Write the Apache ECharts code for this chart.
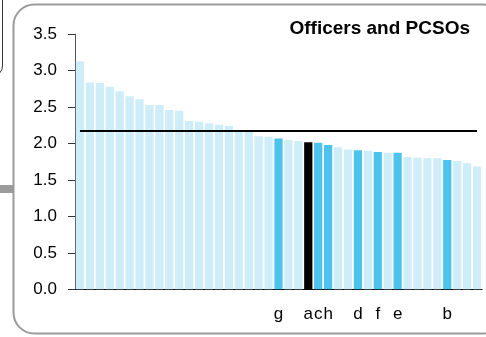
<!DOCTYPE html>
<html>
<head>
<meta charset="utf-8">
<script src="https://cdn.jsdelivr.net/npm/echarts@6/dist/echarts.min.js"></script>
<style>
html,body{margin:0;padding:0;background:#fff;}
#chart{width:486px;height:337px;}
</style>
</head>
<body>
<div id="chart"></div>
<script>
// Force values, sorted descending
var values = [3.13, 2.84, 2.83, 2.78, 2.72, 2.65, 2.61, 2.53, 2.53, 2.46, 2.45,
  2.31, 2.30, 2.28, 2.26, 2.24, 2.18, 2.16, 2.10, 2.095, 2.07, 2.05, 2.035,
  2.02, 2.01, 1.98, 1.95, 1.92, 1.91, 1.90, 1.885, 1.875, 1.875, 1.815,
  1.805, 1.80, 1.80, 1.775, 1.76, 1.73, 1.685];
// Labels under highlighted bars ('' = none)
var labels = ['', '', '', '', '', '', '', '', '', '', '',
  '', '', '', '', '', '', '', '', '', 'g', '', '',
  'a', 'c', 'h', '', '', 'd', '', 'f', '', 'e', '',
  '', '', '', 'b', '', '', ''];
// Bar kind: 0 = other force, 1 = highlighted force, 2 = selected force
var kinds = [0,0,0,0,0,0,0,0,0,0,0,
  0,0,0,0,0,0,0,0,0,1,0,0,
  2,1,1,0,0,1,0,1,0,1,0,
  0,0,0,1,0,0,0];
var averageValue = 2.17;
var titleText = 'Officers and PCSOs';
var yTicks = [0, 0.5, 1.0, 1.5, 2.0, 2.5, 3.0, 3.5];

var categories = values.map(function (v, i) { return 'F' + (i + 1); });
var kindColors = ['#cdedf9', '#4cc3ec', '#000000'];

var chart = echarts.init(document.getElementById('chart'), null, {renderer: 'canvas'});
var font = '"Liberation Sans", Arial, sans-serif';

chart.setOption({
  animation: false,
  grid: {left: 75, right: 4, top: 34.3, bottom: 47.7, containLabel: false},
  xAxis: {
    type: 'category',
    data: categories,
    axisLine: {lineStyle: {color: '#000', width: 1}},
    axisTick: {show: false},
    axisLabel: {
      interval: 0,
      margin: 17,
      color: '#000',
      fontSize: 17,
      fontFamily: font,
      formatter: function (v, i) { return labels[i]; }
    }
  },
  yAxis: {
    type: 'value',
    min: yTicks[0],
    max: yTicks[yTicks.length - 1],
    interval: 0.5,
    splitLine: {show: false},
    axisLine: {show: true, lineStyle: {color: '#555', width: 1}},
    axisTick: {show: true, length: 7, lineStyle: {color: '#333'}},
    axisLabel: {
      margin: 18,
      color: '#000',
      fontSize: 17,
      fontFamily: font,
      formatter: function (v) { return v.toFixed(1); }
    }
  },
  series: [{
    type: 'bar',
    barCategoryGap: '17%',
    data: values.map(function (v, i) {
      return {value: v, itemStyle: {color: kindColors[kinds[i]]}};
    }),
    markLine: {
      silent: true,
      symbol: 'none',
      label: {show: false},
      lineStyle: {color: '#000', width: 2, type: 'solid'},
      data: [[{coord: [0, averageValue]}, {coord: [values.length - 1, averageValue]}]]
    }
  }],
  graphic: [
    {type: 'rect', shape: {x: 13.5, y: 4.5, width: 490, height: 329, r: 21},
      style: {fill: 'none', stroke: '#9b9b9b', lineWidth: 2}, z: 100},
    {type: 'rect', shape: {x: -100, y: -20, width: 102.5, height: 96, r: 10},
      style: {fill: 'none', stroke: '#333', lineWidth: 1}, z: 100},
    {type: 'rect', shape: {x: 0, y: 185, width: 13, height: 8},
      style: {fill: '#9b9b9b'}, z: 100},
    {type: 'text', x: 470, y: 29, z: 100,
      style: {text: titleText, align: 'right', verticalAlign: 'middle',
        font: 'bold 19px "Liberation Sans", Arial, sans-serif', fill: '#000'}}
  ]
});
</script>
</body>
</html>
